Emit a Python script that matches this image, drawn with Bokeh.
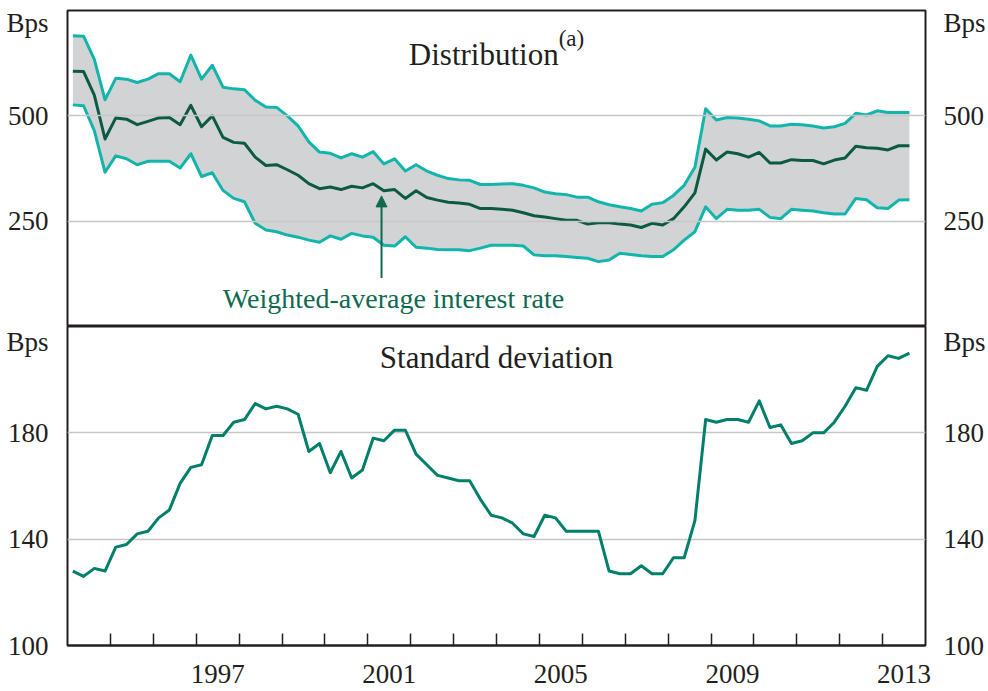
from bokeh.plotting import figure
from bokeh.models import Range1d, LinearAxis, FixedTicker, Label, Arrow, NormalHead
from bokeh.layouts import column
from bokeh.embed import file_html
from bokeh.resources import INLINE

# ---------------- data (quarterly, 1994 Q1 - 2013 Q3) ----------------
start_year = 1994
upper = [690, 689, 634, 538, 589, 587, 579, 587, 600, 600, 581, 644, 587, 620, 568, 564, 562, 537, 521, 520, 500, 476, 438, 414,
         411, 400, 410, 402, 415, 386, 398, 369, 384, 369, 359, 351, 348, 347, 337, 337, 338, 339, 335, 329, 319, 315, 313, 307,
         307, 296, 289, 284, 280, 274, 290,
         294, 311, 335, 378, 517, 490, 496, 495, 492, 488, 476, 476, 480, 479, 476, 471, 474, 482, 506, 502, 512, 508, 508, 508]
mean = [606, 605, 549, 445, 495, 492, 479, 487, 495, 496, 479, 525, 474, 500, 449, 437, 435, 402, 382, 384, 372, 359, 339, 327,
        331, 325, 333, 329, 339, 322, 325, 304, 322, 306, 300, 295, 293, 290, 280, 280, 278, 276, 270, 263, 260, 256, 252, 252,
        243, 246, 246, 243, 241, 235, 245,
        241, 256, 284, 317, 421, 395, 414, 410, 402, 413, 388, 388, 396, 394, 394, 386, 395, 400, 428, 424, 423, 419, 429, 429]
lower = [526, 524, 465, 366, 405, 398, 384, 392, 392, 392, 376, 410, 356, 365, 323, 304, 296, 245, 229, 225, 217, 212, 205, 200,
         215, 207, 221, 215, 212, 193, 191, 213, 188, 186, 183, 182, 182, 180, 186, 193, 193, 193, 191, 170, 168, 168, 166, 164,
         162, 154, 158, 174, 171, 168, 166,
         166, 182, 205, 225, 284, 256, 278, 276, 276, 278, 259, 256, 278, 276, 274, 270, 267, 267, 304, 301, 282, 280, 300, 301]
std_dev = [128, 126, 129, 128, 137, 138, 142, 143, 148, 151, 161, 167, 168, 179, 179, 184, 185, 191, 189, 190, 189, 187, 173, 176,
           165, 173, 163, 166, 178, 177, 181, 181, 172, 168, 164, 163, 162, 162, 155, 149, 148, 146, 142, 141, 149, 148, 143, 143,
           143, 143, 128, 127, 127, 130, 127,
           127, 133, 133, 147, 185, 184, 185, 185, 184, 192, 182, 183, 176, 177, 180, 180, 184, 190, 197, 196, 205, 209, 208, 210]

quarters = [start_year + (i + 0.5) / 4 for i in range(len(mean))]

top_ticks = [250, 500]
top_unit_pos = 720
bottom_ticks = [100, 140, 180]
bottom_unit_pos = 218
unit_label = "Bps"
labelled_years = [1997, 2001, 2005, 2009, 2013]
year_marks = list(range(1995, 2014))

# ---------------- style ----------------
FONT = "Liberation Serif"
INK = "#231f20"
TEAL = "#12b5ac"
DARK = "#0c5a43"
STD = "#007f6a"
BAND = "#d1d3d4"
GRID = "#c6c6c6"
W = 988
LB, RB = 67, 58


def add_y_axes(p, ticks, unit_pos):
    overrides = {t: str(t) for t in ticks}
    overrides[unit_pos] = unit_label
    for loc, so in (("left", 13), ("right", 12)):
        ax = LinearAxis(ticker=FixedTicker(ticks=ticks + [unit_pos]),
                        major_label_overrides=overrides,
                        axis_line_color=None, major_tick_line_color=None,
                        minor_tick_line_color=None,
                        major_label_text_font=FONT, major_label_text_font_size="27px",
                        major_label_text_color=INK, major_label_standoff=so)
        p.add_layout(ax, loc)


# ---------------- top panel ----------------
p1 = figure(width=W, height=326, x_range=Range1d(1994, 2014), y_range=Range1d(0, 750),
            output_backend="svg", toolbar_location=None,
            x_axis_location=None, y_axis_location=None,
            min_border_left=LB, min_border_right=RB, min_border_top=10, min_border_bottom=0)
p1.outline_line_color = INK
p1.outline_line_width = 2
p1.xgrid.visible = False
p1.ygrid.ticker = FixedTicker(ticks=top_ticks)
p1.ygrid.grid_line_color = GRID
p1.ygrid.grid_line_width = 1.5
p1.ygrid.level = "glyph"
add_y_axes(p1, top_ticks, top_unit_pos)

p1.varea(x=quarters, y1=lower, y2=upper, fill_color=BAND, level="underlay")
p1.line(quarters, upper, line_color=TEAL, line_width=3, line_join="round")
p1.line(quarters, lower, line_color=TEAL, line_width=3, line_join="round")
p1.line(quarters, mean, line_color=DARK, line_width=3, line_join="round")

p1.add_layout(Label(x=2005.45, y=646, text="Distribution", text_align="right",
                    text_baseline="alphabetic", text_font=FONT, text_font_size="31px",
                    text_color=INK))
p1.add_layout(Label(x=2005.45, y=683, text="(a)", text_align="left",
                    text_baseline="alphabetic", text_font=FONT, text_font_size="23px",
                    text_color=INK))
p1.add_layout(Label(x=2001.6, y=67, text="Weighted-average interest rate", text_align="center",
                    text_baseline="alphabetic", text_font=FONT, text_font_size="28px",
                    text_color="#0f6a4f"))
p1.add_layout(Arrow(x_start=2001.32, y_start=115, x_end=2001.32, y_end=310,
                    line_color="#0f6a4f", line_width=2,
                    end=NormalHead(size=11, fill_color="#0f6a4f", line_color="#0f6a4f")))

# ---------------- bottom panel ----------------
p2 = figure(width=W, height=365, x_range=p1.x_range, y_range=Range1d(100, 220),
            output_backend="svg", toolbar_location=None,
            x_axis_location="below", y_axis_location=None,
            min_border_left=LB, min_border_right=RB, min_border_top=0, min_border_bottom=46)
p2.outline_line_color = INK
p2.outline_line_width = 2
p2.xgrid.visible = False
p2.ygrid.ticker = FixedTicker(ticks=[140, 180])
p2.ygrid.grid_line_color = GRID
p2.ygrid.grid_line_width = 1.5
add_y_axes(p2, bottom_ticks, bottom_unit_pos)

xa = p2.xaxis[0]
xa.ticker = FixedTicker(ticks=[y + 0.5 for y in labelled_years], minor_ticks=year_marks)
xa.major_label_overrides = {y + 0.5: str(y) for y in labelled_years}
xa.major_tick_line_color = None
xa.minor_tick_line_color = INK
xa.minor_tick_line_width = 1.5
xa.minor_tick_in = 12
xa.minor_tick_out = 0
xa.axis_line_color = INK
xa.axis_line_width = 2
xa.major_label_text_font = FONT
xa.major_label_text_font_size = "27px"
xa.major_label_text_color = INK
xa.major_label_standoff = 13

p2.line(quarters, std_dev, line_color=STD, line_width=3, line_join="round")
p2.add_layout(Label(x=2004.0, y=208.4, text="Standard deviation", text_align="center",
                    text_baseline="alphabetic", text_font=FONT, text_font_size="31px",
                    text_color=INK))

layout = column(p1, p2, spacing=0)
open("out.html", "w").write(file_html(layout, INLINE))
